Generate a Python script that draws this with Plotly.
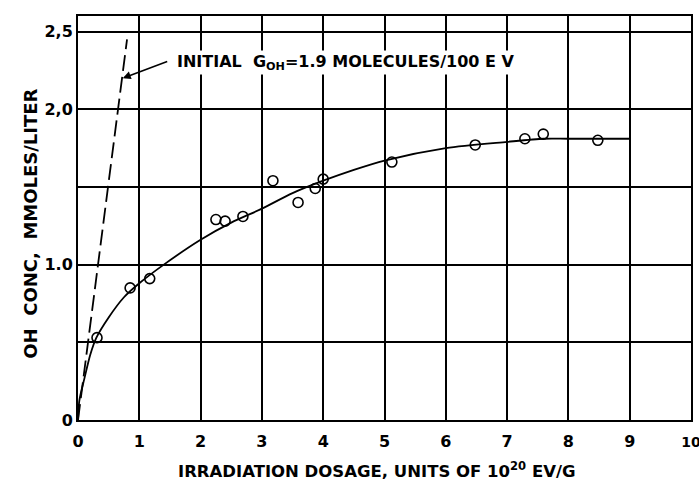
import plotly.graph_objects as go

# measured points
dose = [0.31, 0.85, 1.17, 2.25, 2.40, 2.69, 3.18, 3.59, 3.87, 4.00, 5.12, 6.48, 7.29, 7.59, 8.48]
oh_conc = [0.53, 0.85, 0.91, 1.29, 1.28, 1.31, 1.54, 1.40, 1.49, 1.55, 1.66, 1.77, 1.81, 1.84, 1.80]

# smooth fitted curve
curve_x = [0, 0.02, 0.05, 0.1, 0.2, 0.3, 0.5, 0.75, 1, 1.4, 2, 2.5, 3, 3.5, 4, 4.5, 5, 6, 7, 7.6, 8, 9]
curve_y = [0, 0.12, 0.18, 0.26, 0.42, 0.53, 0.66, 0.79, 0.88, 1.0, 1.16, 1.27, 1.36, 1.46, 1.54, 1.61, 1.67, 1.75, 1.79, 1.81, 1.81, 1.81]

# initial slope line
init_x = [0, 0.8]
init_y = [0, 2.45]

x_ticks = [0, 1, 2, 3, 4, 5, 6, 7, 8, 9, 10]
x_tick_text = ["0", "1", "2", "3", "4", "5", "6", "7", "8", "9",
               "<span style='font-size:14px'>10</span>"]
y_ticks = [0, 0.5, 1.0, 1.5, 2.0, 2.5]
y_tick_text = ["0", "", "1.0", "", "2,0", "2,5"]

FONT = "DejaVu Sans"

fig = go.Figure()
fig.add_trace(go.Scatter(x=init_x, y=init_y, mode="lines",
                         line=dict(color="black", width=1.8, dash="16px,6px"),
                         showlegend=False))
fig.add_trace(go.Scatter(x=curve_x, y=curve_y, mode="lines",
                         line=dict(color="black", width=1.8, shape="spline", smoothing=0.8),
                         showlegend=False))
fig.add_trace(go.Scatter(x=dose, y=oh_conc, mode="markers",
                         marker=dict(symbol="circle-open", size=10, color="black",
                                     line=dict(width=1.6, color="black")),
                         showlegend=False))

fig.update_xaxes(range=[0, 10], tickvals=x_ticks, ticktext=x_tick_text,
                 showgrid=True, gridcolor="black", gridwidth=1.5,
                 showline=True, linecolor="black", linewidth=2, mirror=True,
                 zeroline=False, ticks="", ticklen=0, automargin=False,
                 ticklabelstandoff=6, ticklabeloverflow="allow",
                 tickfont=dict(family=FONT, size=16, color="black", weight="bold"))
fig.update_yaxes(range=[0, 2.6], tickvals=y_ticks, ticktext=y_tick_text,
                 showgrid=True, gridcolor="black", gridwidth=1.5,
                 showline=True, linecolor="black", linewidth=2, mirror=True,
                 zeroline=False, ticks="", ticklen=0, automargin=False,
                 ticklabeloverflow="allow",
                 tickfont=dict(family=FONT, size=16, color="black", weight="bold"))

fig.add_annotation(x=1.58, y=2.30, xref="x", yref="y", xanchor="left", yanchor="middle",
                   text="<b>INITIAL&nbsp; G<sub>OH</sub>=1.9 MOLECULES/100 E V</b>",
                   showarrow=False, bgcolor="white",
                   font=dict(family=FONT, size=16, color="black"))
fig.add_annotation(x=0.73, y=2.20, ax=1.48, ay=2.31, xref="x", yref="y",
                   axref="x", ayref="y", showarrow=True, arrowhead=2,
                   arrowsize=1, arrowwidth=1.6, arrowcolor="black", text="")

fig.add_annotation(x=0.488, y=-0.124, xref="paper", yref="paper", yanchor="middle",
                   text="<b>IRRADIATION DOSAGE, UNITS OF 10<sup>20</sup> EV/G</b>",
                   showarrow=False, font=dict(family=FONT, size=16.5, color="black"))
fig.add_annotation(x=-0.098, y=0.487, xref="paper", yref="paper", textangle=-90,
                   text="<b>OH&nbsp; CONC,&nbsp; MMOLES/LITER</b>",
                   showarrow=False, font=dict(family=FONT, size=18, color="black"))

fig.update_layout(width=699, height=481, plot_bgcolor="white", paper_bgcolor="white",
                  margin=dict(l=78, r=8, t=16, b=61, autoexpand=False),
                  font=dict(family=FONT, color="black"))

# remove the default 8px page margin so the figure fills the window exactly
fig.write_html("out.html", config={"displayModeBar": False},
               post_script="document.body.style.margin='0';document.body.style.overflow='hidden';")
